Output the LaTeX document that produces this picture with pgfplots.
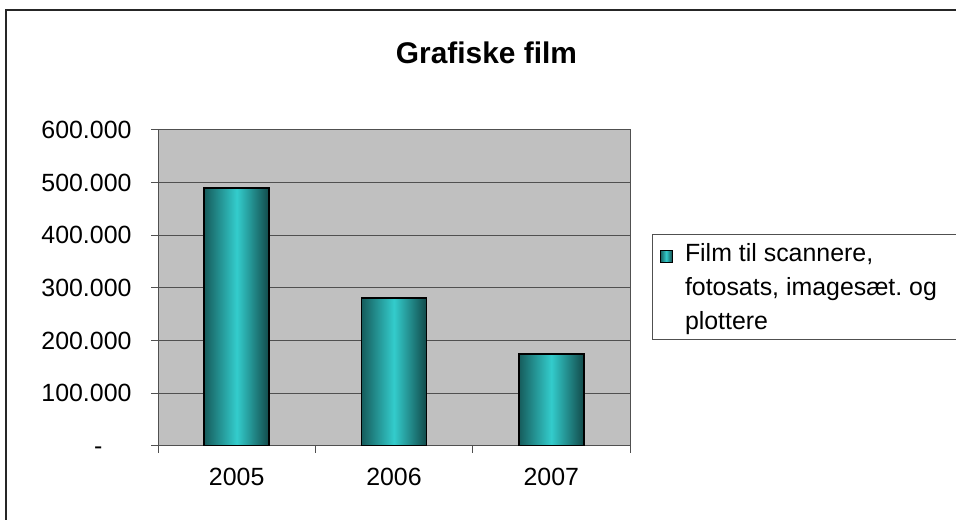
\documentclass[border=0pt]{standalone}
\usepackage{pgfplots}
\pgfplotsset{compat=1.18}
\usepackage{fontspec}
\setmainfont{Liberation Sans}
\definecolor{plotbg}{HTML}{C0C0C0}
\definecolor{tealdark}{HTML}{165C5C}
\definecolor{tealmid}{HTML}{33CCCC}
\definecolor{gridc}{HTML}{505050}
\begin{document}
\frenchspacing
\begin{tikzpicture}[x=1bp,y=1bp]
\useasboundingbox (0,0) rectangle (956,520);
\clip (0,0) rectangle (956,520);
\fill[white] (0,0) rectangle (956,520);
\draw[line width=2bp, black!85] (6,-10) rectangle (975,510);
\begin{axis}[
  at={(158bp,74bp)}, anchor=south west, scale only axis,
  width=472bp, height=316bp,
  xmin=-0.5, xmax=2.5, ymin=0, ymax=600000,
  enlargelimits=false,
  axis background/.style={fill=plotbg},
  axis line style={draw=gridc, line width=1bp},
  ymajorgrids, grid style={draw=gridc, line width=1bp},
  tick align=outside,
  xtick pos=lower, ytick pos=left,
  xtick={-0.5,0.5,1.5,2.5}, xticklabels={},
  major tick length=7bp,
  tick style={draw=gridc, line width=1bp},
  extra x ticks={0,1,2}, extra x tick labels={2005,2006,2007},
  extra x tick style={major tick length=0pt, tick style={draw=none}},
  ytick={0,100000,200000,300000,400000,500000,600000},
  yticklabels={{\vphantom{0}-\hspace*{29bp}},100.000,200.000,300.000,400.000,500.000,600.000},
  scaled y ticks=false,
  /pgf/number format/assume math mode=true,
  ticklabel style={font=\fontsize{25}{30}\selectfont},
  xticklabel style={yshift=-19bp},
  yticklabel style={xshift=-16bp},
  bar width=65bp,
  legend style={at={(1.0466,0.6709)}, anchor=north west, draw=gridc, line width=1bp,
    fill=white, font=\fontsize{25}{34}\selectfont,
    cells={anchor=west, align=left},
    inner xsep=4bp, inner ysep=7bp},
  legend image code/.code={\path (0bp,-40bp) (25bp,40bp);\draw[draw=black, line width=1bp, left color=tealdark, right color=tealdark!80!black, middle color=tealmid] (3bp,25bp) rectangle (15bp,37bp);},
]
\addplot[ybar, bar shift=0pt, draw=black, line width=1.5bp, left color=tealdark, right color=tealdark!80!black, middle color=tealmid]
  coordinates {(0,490000)};
\addlegendentry{Film til scannere,\\\makebox[330bp][l]{fotosats, imagesæt. og}\\plottere}
\addplot[ybar, bar shift=0pt, draw=black, line width=1.5bp, left color=tealdark, right color=tealdark!80!black, middle color=tealmid, forget plot]
  coordinates {(1,281000)};
\addplot[ybar, bar shift=0pt, draw=black, line width=1.5bp, left color=tealdark, right color=tealdark!80!black, middle color=tealmid, forget plot]
  coordinates {(2,175000)};
\end{axis}
\node[anchor=base, font=\fontsize{30}{36}\selectfont\bfseries] at (486.5,456.7) {Grafiske film};
\end{tikzpicture}
\end{document}
